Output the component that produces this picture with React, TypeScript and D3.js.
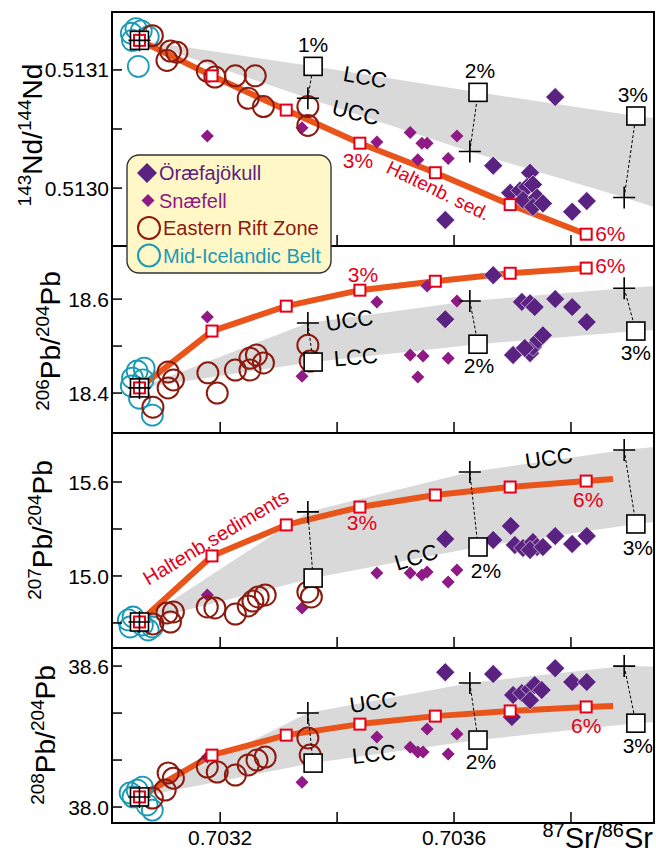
import React from 'react';
import * as d3 from 'd3';

type Pt = [number, number];

const W = 656;
const H = 859;
const FONT = "'Liberation Sans', Arial, Helvetica, sans-serif";

const C_ORA = '#5a2381';
const C_SNA = '#8f1a85';
const C_ERZ = '#8c1a0f';
const C_MIB = '#1a9bb5';
const C_SED = '#e9541a';
const C_RED = '#e3001a';
const C_BAND = '#d9d9d9';

// shared x axis, 87Sr/86Sr
const xDomain = [0.703015, 0.703942];
const xTicks = [0.7032, 0.7034, 0.7036, 0.7038];
const xTickLabels = ['0.7032', '', '0.7036', ''];

// Haltenbanken sediment mixing, 0 .. 6 %
const sedSr = [0.703062, 0.703186, 0.703313, 0.703439, 0.703568, 0.703696, 0.703826];
const sedNd = [0.513125, 0.513095, 0.513066, 0.513038, 0.513013, 0.512986, 0.512961];
const sedPb206 = [18.411, 18.532, 18.585, 18.619, 18.638, 18.655, 18.666];
const sedPb207 = [14.706, 15.128, 15.326, 15.44, 15.517, 15.568, 15.606];
const sedPb208 = [38.043, 38.221, 38.306, 38.353, 38.387, 38.409, 38.426];
const sedTailSr = 0.703872;
const sedTailPb207 = 15.619;
const sedTailPb208 = 38.43;

// crustal mixing, 0 .. 3 % (LCC squares, UCC crosses)
const lccSr = [0.703062, 0.703359, 0.703641, 0.703911];
const uccSr = [0.703062, 0.70335, 0.703627, 0.703891];
const bandEdgeSr = 0.703942;
const lccNd = [0.513125, 0.513103, 0.513081, 0.513061, 0.513059];
const uccNd = [0.513125, 0.513076, 0.513031, 0.512992, 0.512984];
const lccPb206 = [18.411, 18.466, 18.504, 18.532, 18.534];
const uccPb206 = [18.411, 18.549, 18.596, 18.623, 18.628];
const lccPb207 = [14.706, 14.987, 15.185, 15.332, 15.345];
const uccPb207 = [14.706, 15.409, 15.664, 15.804, 15.823];
const lccPb208 = [38.043, 38.187, 38.285, 38.357, 38.362];
const uccPb208 = [38.043, 38.4, 38.528, 38.6, 38.598];

// samples, [87Sr/86Sr, ratio]
const oraNd: Pt[] = [
  [0.703773, 0.513077], [0.703667, 0.513019], [0.70373, 0.513013], [0.703585, 0.512973],
  [0.703696, 0.512996], [0.703713, 0.512998], [0.703725, 0.513001], [0.703735, 0.513003],
  [0.703718, 0.51299], [0.703742, 0.512992], [0.703735, 0.512984], [0.703752, 0.512987],
  [0.703802, 0.51298], [0.703827, 0.512989],
];
const snaNd: Pt[] = [
  [0.703178, 0.513044], [0.70334, 0.513051], [0.703468, 0.513039], [0.703525, 0.513047],
  [0.703545, 0.513038], [0.703554, 0.513038], [0.703538, 0.513024], [0.70359, 0.513025],
  [0.703605, 0.513044],
];
const erzNd: Pt[] = [
  [0.703084, 0.513129], [0.703115, 0.513116], [0.703126, 0.513115], [0.703109, 0.513108],
  [0.703178, 0.513099], [0.703191, 0.513094], [0.703226, 0.513095], [0.70326, 0.513095],
  [0.703248, 0.513076], [0.703274, 0.513069], [0.70335, 0.513069], [0.70335, 0.513053],
];
const mibNd: Pt[] = [
  [0.703048, 0.513131], [0.703056, 0.513135], [0.703065, 0.513133], [0.703077, 0.513128],
  [0.70305, 0.513125], [0.70306, 0.513103],
];

const oraPb206: Pt[] = [
  [0.703585, 18.557], [0.703667, 18.651], [0.703716, 18.594], [0.70373, 18.591],
  [0.703738, 18.583], [0.703773, 18.6], [0.703802, 18.583], [0.703827, 18.551],
  [0.703701, 18.481], [0.70373, 18.485], [0.703735, 18.498], [0.703744, 18.513],
  [0.703752, 18.523], [0.703721, 18.496],
];
const snaPb206: Pt[] = [
  [0.703178, 18.562], [0.70334, 18.436], [0.703468, 18.594], [0.703525, 18.481],
  [0.703547, 18.479], [0.703538, 18.434], [0.70359, 18.474], [0.703605, 18.596],
  [0.703554, 18.628],
];
const erzPb206: Pt[] = [
  [0.703111, 18.445], [0.70312, 18.428], [0.703111, 18.411], [0.703085, 18.37],
  [0.703179, 18.443], [0.703195, 18.4], [0.703226, 18.449], [0.703251, 18.474],
  [0.703262, 18.481], [0.703274, 18.464], [0.703251, 18.449], [0.70335, 18.502],
  [0.703354, 18.468],
];
const mibPb206: Pt[] = [
  [0.70305, 18.432], [0.703058, 18.447], [0.70307, 18.453], [0.703048, 18.415],
  [0.703062, 18.389], [0.703084, 18.353], [0.703068, 18.428],
];

const oraPb207: Pt[] = [
  [0.703585, 15.236], [0.703667, 15.23], [0.703697, 15.319], [0.703704, 15.198],
  [0.703718, 15.179], [0.703735, 15.217], [0.703742, 15.185], [0.70373, 15.166],
  [0.703752, 15.185], [0.703773, 15.255], [0.703802, 15.204], [0.703827, 15.255],
];
const snaPb207: Pt[] = [
  [0.703178, 14.879], [0.70334, 14.796], [0.703468, 15.019], [0.703525, 15.019],
  [0.703545, 15.006], [0.703554, 15.026], [0.70359, 14.962], [0.703605, 15.038],
];
const erzPb207: Pt[] = [
  [0.703109, 14.764], [0.70312, 14.77], [0.703115, 14.706], [0.703085, 14.694],
  [0.703178, 14.802], [0.703191, 14.796], [0.703226, 14.757], [0.703248, 14.809],
  [0.703256, 14.84], [0.703265, 14.866], [0.703277, 14.879], [0.70335, 14.898],
  [0.703356, 14.866],
];
const mibPb207: Pt[] = [
  [0.703043, 14.719], [0.703051, 14.738], [0.703067, 14.687], [0.703077, 14.655],
  [0.703046, 14.674], [0.703084, 14.674],
];

const oraPb208: Pt[] = [
  [0.703585, 38.574], [0.703667, 38.566], [0.703773, 38.591], [0.703802, 38.532],
  [0.703827, 38.532], [0.703701, 38.477], [0.703716, 38.485], [0.70373, 38.502],
  [0.703738, 38.519], [0.70375, 38.498], [0.70373, 38.455], [0.703699, 38.383],
];
const snaPb208: Pt[] = [
  [0.70334, 38.106], [0.703178, 38.213], [0.703468, 38.298], [0.703554, 38.332],
  [0.703605, 38.311], [0.703525, 38.255], [0.703538, 38.234], [0.703547, 38.234],
  [0.70359, 38.226],
];
const erzPb208: Pt[] = [
  [0.703111, 38.145], [0.70312, 38.123], [0.703106, 38.072], [0.703084, 38.038],
  [0.703178, 38.17], [0.703195, 38.149], [0.703226, 38.136], [0.703248, 38.179],
  [0.703263, 38.2], [0.703277, 38.213], [0.70335, 38.294], [0.703354, 38.221],
];
const mibPb208: Pt[] = [
  [0.703058, 38.072], [0.703046, 38.06], [0.703051, 38.043], [0.703084, 37.987],
  [0.703075, 38.009], [0.703067, 38.085],
];

const crustPct = ['0%', '1%', '2%', '3%'];
const sedPct = ['0%', '1%', '2%', '3%', '4%', '5%', '6%'];

type Note = { t: string; sr: number; v: number; rot: number; color?: string; size?: number; start?: boolean };
type PctLabel = { i: number; dx: number; dy: number; anchor: string };

type PanelDef = {
  top: number; bottom: number; domain: number[];
  major: number[]; majorLabels: string[]; minor: number[];
  iso: [string, string, string, string]; titleX: number; titleY: number;
  sed: number[]; tail: Pt | null;
  lcc: number[]; ucc: number[];
  ora: Pt[]; sna: Pt[]; erz: Pt[]; mib: Pt[];
  crustLabels: PctLabel[]; sedLabels: PctLabel[]; notes: Note[];
};

const panels: PanelDef[] = [
  {
    top: 12, bottom: 246, domain: [0.512951, 0.513149],
    major: [0.513, 0.5131], majorLabels: ['0.5130', '0.5131'], minor: [0.51305],
    iso: ['143', 'Nd/', '144', 'Nd'], titleX: 42, titleY: 135,
    sed: sedNd, tail: null, lcc: lccNd, ucc: uccNd,
    ora: oraNd, sna: snaNd, erz: erzNd, mib: mibNd,
    crustLabels: [
      { i: 1, dx: 0, dy: -14, anchor: 'middle' },
      { i: 2, dx: 2, dy: -14, anchor: 'middle' },
      { i: 3, dx: -3, dy: -14, anchor: 'middle' },
    ],
    sedLabels: [
      { i: 3, dx: -2, dy: 25, anchor: 'middle' },
      { i: 6, dx: 9, dy: 7, anchor: 'start' },
    ],
    notes: [
      { t: 'LCC', sr: 0.703448, v: 0.513094, rot: 10 },
      { t: 'UCC', sr: 0.703432, v: 0.513064, rot: 14 },
      { t: 'Haltenb. sed.', sr: 0.703573, v: 0.512998, rot: 26, color: C_RED, size: 19 },
    ],
  },
  {
    top: 246, bottom: 433, domain: [18.315, 18.713],
    major: [18.4, 18.6], majorLabels: ['18.4', '18.6'], minor: [18.5],
    iso: ['206', 'Pb/', '204', 'Pb'], titleX: 60, titleY: 341,
    sed: sedPb206, tail: null, lcc: lccPb206, ucc: uccPb206,
    ora: oraPb206, sna: snaPb206, erz: erzPb206, mib: mibPb206,
    crustLabels: [
      { i: 2, dx: 1, dy: 29, anchor: 'middle' },
      { i: 3, dx: 0, dy: 29, anchor: 'middle' },
    ],
    sedLabels: [
      { i: 3, dx: 3, dy: -8, anchor: 'middle' },
      { i: 6, dx: 9, dy: 5, anchor: 'start' },
    ],
    notes: [
      { t: 'UCC', sr: 0.703421, v: 18.555, rot: -8 },
      { t: 'LCC', sr: 0.703432, v: 18.477, rot: -5 },
    ],
  },
  {
    top: 433, bottom: 648, domain: [14.54, 15.913],
    major: [15.0, 15.6], majorLabels: ['15.0', '15.6'], minor: [14.7, 15.3],
    iso: ['207', 'Pb/', '204', 'Pb'], titleX: 52, titleY: 530,
    sed: sedPb207, tail: [sedTailSr, sedTailPb207], lcc: lccPb207, ucc: uccPb207,
    ora: oraPb207, sna: snaPb207, erz: erzPb207, mib: mibPb207,
    crustLabels: [
      { i: 2, dx: 8, dy: 31, anchor: 'middle' },
      { i: 3, dx: 2, dy: 31, anchor: 'middle' },
    ],
    sedLabels: [
      { i: 3, dx: 2, dy: 23, anchor: 'middle' },
      { i: 6, dx: 2, dy: 26, anchor: 'middle' },
    ],
    notes: [
      { t: 'UCC', sr: 0.703762, v: 15.753, rot: -8 },
      { t: 'LCC', sr: 0.703535, v: 15.121, rot: -17 },
      { t: 'Haltenb.sediments', sr: 0.703077, v: 14.937, rot: -31, color: C_RED, size: 20, start: true },
    ],
  },
  {
    top: 648, bottom: 823, domain: [37.932, 38.677],
    major: [38.0, 38.6], majorLabels: ['38.0', '38.6'], minor: [38.2, 38.4],
    iso: ['208', 'Pb/', '204', 'Pb'], titleX: 55, titleY: 735,
    sed: sedPb208, tail: [sedTailSr, sedTailPb208], lcc: lccPb208, ucc: uccPb208,
    ora: oraPb208, sna: snaPb208, erz: erzPb208, mib: mibPb208,
    crustLabels: [
      { i: 2, dx: 3, dy: 29, anchor: 'middle' },
      { i: 3, dx: 2, dy: 30, anchor: 'middle' },
    ],
    sedLabels: [{ i: 6, dx: 0, dy: 26, anchor: 'middle' }],
    notes: [
      { t: 'UCC', sr: 0.703462, v: 38.447, rot: -8 },
      { t: 'LCC', sr: 0.703463, v: 38.226, rot: -6 },
    ],
  },
];

const x = d3.scaleLinear().domain(xDomain).range([112, 654]);
const X0 = 112;
const X1 = 654;

const diamond = (cx: number, cy: number, r: number) =>
  `M${cx},${cy - r}L${cx + r},${cy}L${cx},${cy + r}L${cx - r},${cy}Z`;
const plus = (cx: number, cy: number, s: number) =>
  `M${cx - s},${cy}H${cx + s}M${cx},${cy - s}V${cy + s}`;

function IsoLabel({ parts, big, small }: { parts: string[]; big: number; small: number }) {
  const up = Math.round(big * 0.38);
  return (
    <>
      <tspan fontSize={small} dy={-up}>{parts[0]}</tspan>
      <tspan fontSize={big} dy={up}>{parts[1]}</tspan>
      <tspan fontSize={small} dy={-up}>{parts[2]}</tspan>
      <tspan fontSize={big} dy={up}>{parts[3]}</tspan>
    </>
  );
}

function Panel({ p, idx }: { p: PanelDef; idx: number }) {
  const y = d3.scaleLinear().domain(p.domain).range([p.bottom, p.top]);
  const line = d3.line<Pt>().x(d => x(d[0])).y(d => y(d[1]));

  const sedPts: Pt[] = sedSr.map((s, i) => [s, p.sed[i]]);
  const sedLine = p.tail ? [...sedPts, p.tail] : sedPts;
  const lccPts: Pt[] = lccSr.map((s, i) => [s, p.lcc[i]] as Pt).concat([[bandEdgeSr, p.lcc[4]]]);
  const uccPts: Pt[] = uccSr.map((s, i) => [s, p.ucc[i]] as Pt).concat([[bandEdgeSr, p.ucc[4]]]);
  const band = line([...lccPts, ...uccPts.slice().reverse()]) + 'Z';
  const clipId = `clip${idx}`;

  return (
    <g>
      <defs>
        <clipPath id={clipId}>
          <rect x={X0} y={p.top} width={X1 - X0} height={p.bottom - p.top} />
        </clipPath>
      </defs>
      <g clipPath={`url(#${clipId})`}>
        <path d={band} fill={C_BAND} stroke="none" />
        <path d={line(sedLine) || ''} fill="none" stroke={C_SED} strokeWidth={6} strokeLinejoin="round" />
      </g>

      {p.ora.map((d, i) => (
        <path key={'o' + i} d={diamond(x(d[0]), y(d[1]), 9.5)} fill={C_ORA} stroke="#fff" strokeWidth={0.6} />
      ))}
      {p.sna.map((d, i) => (
        <path key={'s' + i} d={diamond(x(d[0]), y(d[1]), 6.5)} fill={C_SNA} />
      ))}
      {p.mib.map((d, i) => (
        <circle key={'m' + i} cx={x(d[0])} cy={y(d[1])} r={10.5} fill="none" stroke={C_MIB} strokeWidth={1.8} />
      ))}
      {p.erz.map((d, i) => (
        <circle key={'e' + i} cx={x(d[0])} cy={y(d[1])} r={10.5} fill="none" stroke={C_ERZ} strokeWidth={2} />
      ))}

      {/* sediment mixing steps */}
      {sedPts.slice(1).map((d, i) => (
        <rect key={'r' + i} x={x(d[0]) - 5.5} y={y(d[1]) - 5.5} width={11} height={11}
          fill="#fff" stroke={C_RED} strokeWidth={2} />
      ))}

      {/* crustal mixing steps */}
      {crustPct.slice(1).map((_, k) => {
        const i = k + 1;
        const sx = x(lccSr[i]), sy = y(p.lcc[i]);
        const cx = x(uccSr[i]), cy = y(p.ucc[i]);
        return (
          <g key={'c' + i}>
            <line x1={cx} y1={cy} x2={sx} y2={sy} stroke="#000" strokeWidth={1} strokeDasharray="3,2" />
            <rect x={sx - 9} y={sy - 9} width={18} height={18} fill="#fff" stroke="#000" strokeWidth={1.6} />
            <path d={plus(cx, cy, 11)} stroke="#000" strokeWidth={1.6} fill="none" />
          </g>
        );
      })}

      {/* starting composition */}
      <rect x={x(lccSr[0]) - 9} y={y(p.lcc[0]) - 9} width={18} height={18} fill="#fff" stroke="#000" strokeWidth={1.6} />
      <rect x={x(sedSr[0]) - 5.5} y={y(p.sed[0]) - 5.5} width={11} height={11} fill="#fff" stroke={C_RED} strokeWidth={2} />
      <path d={plus(x(uccSr[0]), y(p.ucc[0]), 11)} stroke="#000" strokeWidth={1.6} fill="none" />

      {p.crustLabels.map(l => (
        <text key={'cl' + l.i} x={x(lccSr[l.i]) + l.dx} y={y(p.lcc[l.i]) + l.dy} textAnchor={l.anchor}
          fontSize={21} fill="#000">{crustPct[l.i]}</text>
      ))}
      {p.sedLabels.map(l => (
        <text key={'sl' + l.i} x={x(sedSr[l.i]) + l.dx} y={y(p.sed[l.i]) + l.dy} textAnchor={l.anchor}
          fontSize={21} fill={C_RED}>{sedPct[l.i]}</text>
      ))}
      {p.notes.map((n, i) => (
        <text key={'n' + i} transform={`translate(${x(n.sr)},${y(n.v)}) rotate(${n.rot})`}
          textAnchor={n.start ? 'start' : 'middle'} dy={n.start ? 0 : '0.35em'}
          fontSize={n.size || 22} fill={n.color || '#000'}>{n.t}</text>
      ))}

      {/* axes */}
      {p.major.concat(p.minor).map((t, i) => (
        <line key={'yt' + i} x1={X0} x2={X0 + 10} y1={y(t)} y2={y(t)} stroke="#000" strokeWidth={1.5} />
      ))}
      {p.major.map((t, i) => (
        <text key={'yl' + i} x={X0 - 3} y={y(t)} dy="0.36em" textAnchor="end" fontSize={21}>{p.majorLabels[i]}</text>
      ))}
      {xTicks.map((t, i) => (
        <line key={'xt' + i} x1={x(t)} x2={x(t)} y1={p.bottom} y2={p.bottom - 11} stroke="#000" strokeWidth={1.5} />
      ))}
      <rect x={X0} y={p.top} width={X1 - X0} height={p.bottom - p.top} fill="none" stroke="#000" strokeWidth={2} />

      <text transform={`translate(${p.titleX},${p.titleY}) rotate(-90)`} textAnchor="middle" fill="#000">
        <IsoLabel parts={p.iso} big={28} small={19} />
      </text>
    </g>
  );
}

const legendItems = [
  { label: 'Öræfajökull', color: C_ORA, kind: 'bigDiamond' },
  { label: 'Snæfell', color: C_SNA, kind: 'smallDiamond' },
  { label: 'Eastern Rift Zone', color: C_ERZ, kind: 'circle' },
  { label: 'Mid-Icelandic Belt', color: C_MIB, kind: 'circle' },
];

function Legend() {
  const x0 = 127, y0 = 155;
  return (
    <g>
      <rect x={x0} y={y0} width={204} height={118} rx={12} fill="#fff7c6" stroke="#333" strokeWidth={1.4} />
      {legendItems.map((it, i) => {
        const cy = y0 + 18 + i * 27.5;
        let mark;
        if (it.kind === 'bigDiamond') mark = <path d={diamond(x0 + 20, cy, 10)} fill={it.color} />;
        else if (it.kind === 'smallDiamond') mark = <path d={diamond(x0 + 21, cy, 6.5)} fill={it.color} />;
        else mark = <circle cx={x0 + 22} cy={cy} r={11} fill="none" stroke={it.color} strokeWidth={2} />;
        return (
          <g key={it.label}>
            {mark}
            <text x={x0 + (i < 2 ? 32 : 36)} y={cy} dy="0.36em" fontSize={20} fill={it.color}>{it.label}</text>
          </g>
        );
      })}
    </g>
  );
}

export default function App() {
  return (
    <svg width={W} height={H} style={{ position: 'absolute', left: 0, top: 0, background: '#fff' }}
      fontFamily={FONT}>
      {panels.map((p, i) => <Panel key={i} p={p} idx={i} />)}
      <Legend />
      {xTicks.map((t, i) => xTickLabels[i] ? (
        <text key={'xl' + i} x={x(t)} y={845} textAnchor="middle" fontSize={21}>{xTickLabels[i]}</text>
      ) : null)}
      <text x={653} y={848} textAnchor="end" fill="#000">
        <IsoLabel parts={['87', 'Sr/', '86', 'Sr']} big={29} small={20} />
      </text>
    </svg>
  );
}
